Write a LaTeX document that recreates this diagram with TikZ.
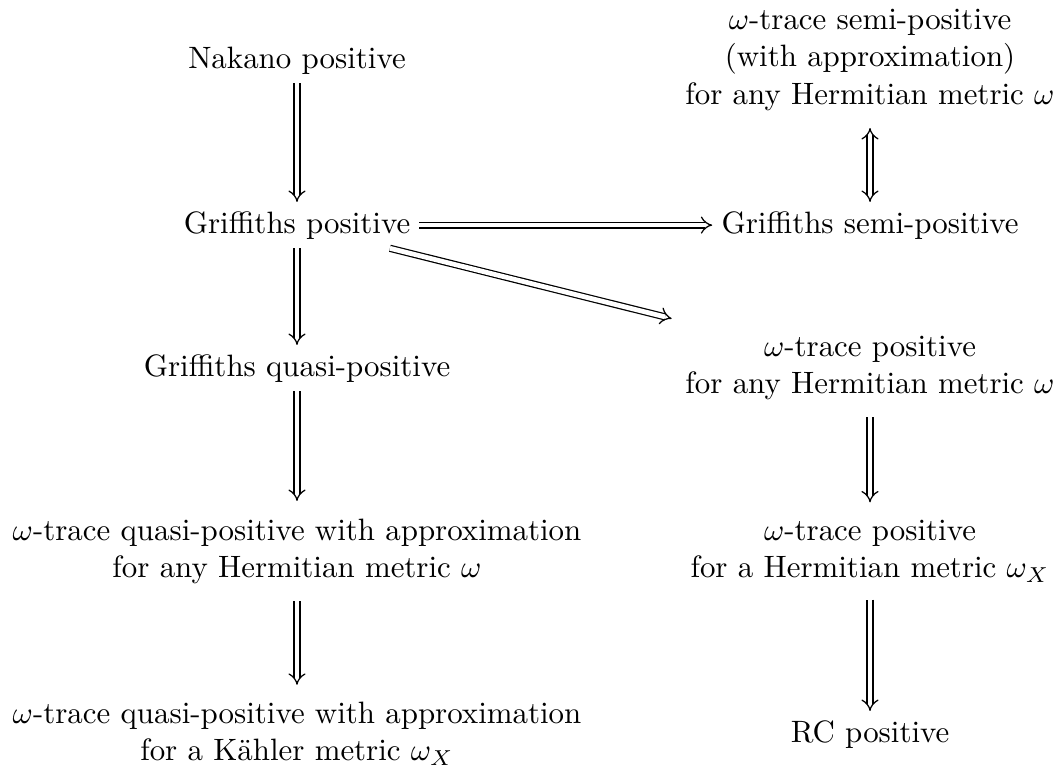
\documentclass[tikz,border=0pt]{standalone}
\usetikzlibrary{arrows.meta}
\tikzset{
  cell/.style={inner sep=0.65ex, align=center},
  stack/.style={cell, inner xsep=8.8pt, inner ysep=5.5pt},
  imp/.style={double, double equal sign distance, -{Implies}},
  iff/.style={double, double equal sign distance, {Implies}-{Implies}},
}
\begin{document}
\begin{tikzpicture}[x=0.3236pt, y=-0.3236pt]
\useasboundingbox (0,0) rectangle (1063,771);
% left column
\node[cell, anchor=base] (nak) at (297,68) {Nakano positive};
\node[cell, anchor=base] (gp) at (297,233) {Griffiths positive};
\node[cell, anchor=base] (gq) at (297,376) {Griffiths quasi-positive};
\node[stack] (tqa) at (297,551) {$\omega$-trace quasi-positive with approximation\\ for any Hermitian metric $\omega$};
\node[stack] (tqk) at (297,734) {$\omega$-trace quasi-positive with approximation\\ for a K\"ahler metric $\omega_X$};
% right column
\node[stack] (tsp) at (870,60) {$\omega$-trace semi-positive\\ (with approximation)\\ for any Hermitian metric $\omega$};
\node[cell, anchor=base] (gsp) at (870,233) {Griffiths semi-positive};
\node[stack] (tp) at (870,368) {$\omega$-trace positive\\ for any Hermitian metric $\omega$};
\node[stack] (tpx) at (870,551) {$\omega$-trace positive\\ for a Hermitian metric $\omega_X$};
\node[cell, anchor=base] (rc) at (870,742) {RC positive};

\draw[imp] (nak) -- (gp);
\draw[imp] (gp) -- (gq);
\draw[imp] (gq) -- (tqa);
\draw[imp] (tqa) -- (tqk);
\draw[imp] (gp) -- (gsp);
\draw[imp] (gp) -- (tp);
\draw[iff] (tsp) -- (gsp);
\draw[imp] (tp) -- (tpx);
\draw[imp] (tpx) -- (rc);
\end{tikzpicture}
\end{document}
